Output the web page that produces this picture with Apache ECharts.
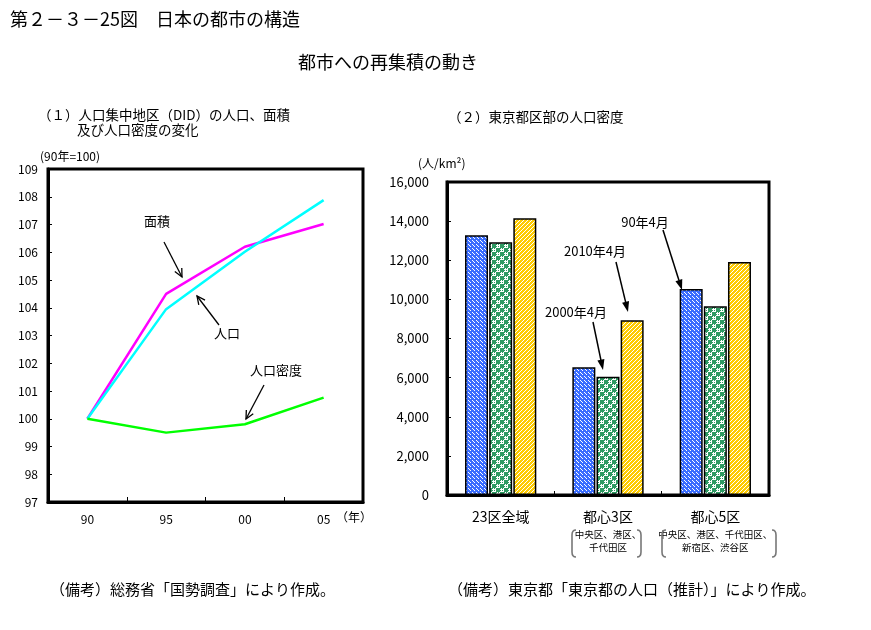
<!DOCTYPE html>
<html><head><meta charset="utf-8">
<script src="https://cdn.jsdelivr.net/npm/echarts@6/dist/echarts.min.js"></script>
<style>html,body{margin:0;padding:0;background:#fff}#c{width:871px;height:630px}</style>
</head><body><div id="c"></div>
<script>
// ---- data: left panel (index, 1990 = 100)
const years = ['90', '95', '00', '05'];
const areaIdx = [100, 104.5, 106.2, 107.02];
const popIdx = [100, 103.95, 106.02, 107.88];
const densityIdx = [100, 99.5, 99.8, 100.76];
const leftMin = 97, leftMax = 109, leftStep = 1;

// ---- data: right panel (persons / km2)
const wards = ['23区全域', '都心3区', '都心5区'];
const wardSub = [[], ['中央区、港区、', '千代田区'], ['中央区、港区、千代田区、', '新宿区、渋谷区']];
const dens1990 = [13280, 6530, 10530];
const dens2000 = [12920, 6050, 9650];
const dens2010 = [14150, 8930, 11910];
const rightMin = 0, rightMax = 16000, rightStep = 2000;

const FF = '"Noto Sans CJK JP","Noto Sans",sans-serif';

function pattern(size, painter) {
  const c = document.createElement('canvas');
  c.width = size; c.height = size;
  const g = c.getContext('2d');
  painter(g, size);
  return { image: c, repeat: 'repeat' };
}
const bluePat = pattern(4, (g) => {
  g.fillStyle = '#3a6dff'; g.fillRect(0, 0, 4, 4);
  g.fillStyle = '#ffffff';
  g.fillRect(0, 0, 1, 1); g.fillRect(2, 2, 1, 1); g.fillRect(1, 1, 1, 1);
});
const greenPat = pattern(8, (g) => {
  g.fillStyle = '#ffffff'; g.fillRect(0, 0, 8, 8);
  g.fillStyle = '#2e9a62';
  for (let x = 0; x < 8; x += 2) for (let y = 0; y < 8; y += 2) g.fillRect(x, y, 1, 1);
  g.fillRect(0, 0, 4, 4); g.fillRect(4, 4, 4, 4);
});
const yellowPat = pattern(4, (g) => {
  for (let x = 0; x < 4; x++) for (let y = 0; y < 4; y++) {
    g.fillStyle = ((x + y) % 4 === 3) ? '#ffffff' : '#ffcc00';
    g.fillRect(x, y, 1, 1);
  }
});

function txt(s, x, y, size, align) {
  return { type: 'text', z: 100, style: { text: s, x: x, y: y, font: size + 'px ' + FF, fill: '#000',
    textAlign: align || 'left', align: align || 'left', textVerticalAlign: 'middle', verticalAlign: 'middle' } };
}
function arrow(x1, y1, x2, y2, filled) {
  const a = Math.atan2(y2 - y1, x2 - x1);
  const L = filled ? 11 : 9, W = filled ? 0.33 : 0.45;
  const p1 = [x2 - L * Math.cos(a - W), y2 - L * Math.sin(a - W)];
  const p2 = [x2 - L * Math.cos(a + W), y2 - L * Math.sin(a + W)];
  const els = [];
  if (filled) {
    const bx = x2 - L * 0.9 * Math.cos(a), by = y2 - L * 0.9 * Math.sin(a);
    els.push({ type: 'line', z: 100, shape: { x1: x1, y1: y1, x2: bx, y2: by }, style: { stroke: '#000', lineWidth: 1.5 } });
    els.push({ type: 'polygon', z: 100, shape: { points: [[x2, y2], p1, p2] }, style: { fill: '#000' } });
  } else {
    els.push({ type: 'line', z: 100, shape: { x1: x1, y1: y1, x2: x2, y2: y2 }, style: { stroke: '#000', lineWidth: 1.3 } });
    els.push({ type: 'polyline', z: 100, shape: { points: [p1, [x2, y2], p2] }, style: { stroke: '#000', lineWidth: 1.3, fill: null } });
  }
  return els;
}
function bracket(x, y0, y1, dir) {
  const d = dir * 4, st = { stroke: '#777', lineWidth: 1.6, fill: null };
  return [
    { type: 'bezierCurve', z: 100, shape: { x1: x + d, y1: y0, cpx1: x, cpy1: y0, x2: x, y2: y0 + 5 }, style: st },
    { type: 'line', z: 100, shape: { x1: x, y1: y0 + 5, x2: x, y2: y1 - 5 }, style: st },
    { type: 'bezierCurve', z: 100, shape: { x1: x, y1: y1 - 5, cpx1: x, cpy1: y1, x2: x + d, y2: y1 }, style: st }
  ];
}

const graphics = [
  txt('第２－３－25図　日本の都市の構造', 10, 19, 18),
  txt('都市への再集積の動き', 298, 62, 18),
  txt('（１）人口集中地区（DID）の人口、面積', 38, 115, 13.5),
  txt('及び人口密度の変化', 77, 130, 13.5),
  txt('(90年=100)', 40, 156, 12),
  txt('（年）', 336, 517, 12),
  txt('（２）東京都区部の人口密度', 448, 117, 13.5),
  txt('(人/km²)', 418, 163, 12),
  txt('面積', 157, 221, 13, 'center'),
  txt('人口', 227, 333, 13, 'center'),
  txt('人口密度', 276, 370, 13, 'center'),
  txt('90年4月', 645, 222, 13, 'center'),
  txt('2010年4月', 595, 251, 13, 'center'),
  txt('2000年4月', 576, 312, 13, 'center'),
  txt('（備考）総務省「国勢調査」により作成。', 50, 589, 15),
  txt('（備考）東京都「東京都の人口（推計）」により作成。', 448, 589, 15)
].concat(
  bracket(572, 530, 557, 1), bracket(641, 530, 557, -1),
  bracket(662, 530, 557, 1), bracket(776, 530, 557, -1),
  arrow(164, 242, 182, 277, false),
  arrow(219, 325, 197, 296, false),
  arrow(264, 385, 246, 419, false),
  arrow(663, 230, 682, 290, true),
  arrow(616, 262, 628, 312, true),
  arrow(593, 322, 603, 370, true)
);

const axisLine = { show: true, lineStyle: { color: '#000', width: 3 } };
const tick = (len) => ({ show: true, inside: true, length: len, lineStyle: { color: '#000', width: 1 } });

const option = {
  animation: false,
  backgroundColor: '#fff',
  textStyle: { fontFamily: FF },
  grid: [
    { left: 48, top: 169, width: 315, height: 333, show: true, borderColor: '#000', borderWidth: 3 },
    { left: 447, top: 182, width: 322, height: 313, show: true, borderColor: '#000', borderWidth: 3 }
  ],
  xAxis: [
    { type: 'category', gridIndex: 0, data: years, boundaryGap: true, axisLine: axisLine, axisTick: tick(5),
      axisLabel: { color: '#000', fontSize: 12, margin: 11, fontFamily: FF } },
    { type: 'category', gridIndex: 1, data: wards, boundaryGap: true, axisLine: axisLine, axisTick: tick(4),
      axisLabel: { color: '#000', margin: 11, fontFamily: FF, interval: 0, hideOverlap: false,
        formatter: function (v, i) {
          const sub = wardSub[i] || [];
          return ['{a|' + v + '}'].concat(sub.map(s => '{b|' + s + '}')).join('\n');
        },
        rich: { a: { fontSize: 14, lineHeight: 22, fontFamily: FF, color: '#000' },
                b: { fontSize: 9.5, lineHeight: 13, fontFamily: FF, color: '#000' } } } }
  ],
  yAxis: [
    { type: 'value', gridIndex: 0, min: leftMin, max: leftMax, interval: leftStep, axisLine: axisLine, axisTick: tick(4),
      splitLine: { show: false }, axisLabel: { color: '#000', fontSize: 12, margin: 10, fontFamily: FF } },
    { type: 'value', gridIndex: 1, min: rightMin, max: rightMax, interval: rightStep, axisLine: axisLine, axisTick: tick(4),
      splitLine: { show: false },
      axisLabel: { color: '#000', fontSize: 13, margin: 18, fontFamily: FF,
        formatter: v => v.toLocaleString('en-US') } }
  ],
  series: [
    { name: '面積', type: 'line', xAxisIndex: 0, yAxisIndex: 0, data: areaIdx, symbol: 'none',
      lineStyle: { color: '#ff00ff', width: 2.5 } },
    { name: '人口', type: 'line', xAxisIndex: 0, yAxisIndex: 0, data: popIdx, symbol: 'none',
      lineStyle: { color: '#00ffff', width: 2.5 } },
    { name: '人口密度', type: 'line', xAxisIndex: 0, yAxisIndex: 0, data: densityIdx, symbol: 'none',
      lineStyle: { color: '#00ff00', width: 2.5 } },
    { name: '90年4月', type: 'bar', xAxisIndex: 1, yAxisIndex: 1, data: dens1990, barWidth: 23, barGap: '5%',
      itemStyle: { color: bluePat, borderColor: '#000', borderWidth: 1.5 } },
    { name: '2000年4月', type: 'bar', xAxisIndex: 1, yAxisIndex: 1, data: dens2000, barWidth: 23, barGap: '5%',
      itemStyle: { color: greenPat, borderColor: '#000', borderWidth: 1.5 } },
    { name: '2010年4月', type: 'bar', xAxisIndex: 1, yAxisIndex: 1, data: dens2010, barWidth: 23, barGap: '5%',
      itemStyle: { color: yellowPat, borderColor: '#000', borderWidth: 1.5 } }
  ],
  graphic: graphics
};
const chart = echarts.init(document.getElementById('c'), null, { renderer: 'canvas' });
chart.setOption(option);
</script></body></html>
